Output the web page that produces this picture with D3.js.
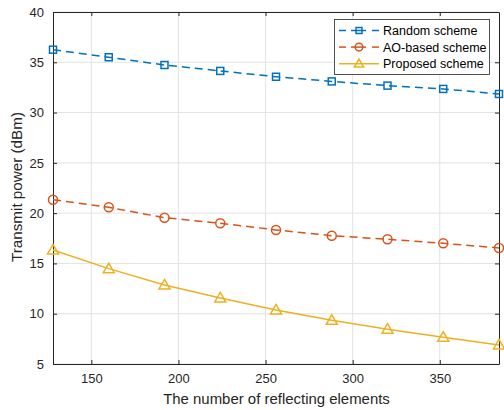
<!DOCTYPE html>
<html><head><meta charset="utf-8">
<script src="https://cdn.jsdelivr.net/npm/d3@7"></script>
<style>body{margin:0;background:#fff}svg{display:block}</style>
</head><body>
<script>
const elements = [128,160,192,224,256,288,320,352,384];
const randomScheme = [36.25,35.5,34.73,34.14,33.56,33.1,32.68,32.35,31.85];
const aoScheme = [21.34,20.58,19.55,19.0,18.33,17.76,17.4,17.0,16.54];
const proposedScheme = [16.34,14.48,12.86,11.57,10.38,9.35,8.46,7.66,6.9];
const xTicks = [150,200,250,300,350];
const yTicks = [5,10,15,20,25,30,35,40];
const seriesNames = ["Random scheme","AO-based scheme","Proposed scheme"];

const W=504,H=410;
const m={l:53,r:5,t:12,b:46};
const svg=d3.select("body").append("svg").attr("width",W).attr("height",H);
const x=d3.scaleLinear().domain([128,384]).range([m.l,W-m.r]);
const y=d3.scaleLinear().domain([5,40]).range([H-m.b,m.t]);
const font="Liberation Sans, Arial, sans-serif";
const tc="#262626";

// grid
const g=svg.append("g");
g.selectAll(".gx").data(xTicks).join("line").attr("x1",d=>x(d)).attr("x2",d=>x(d)).attr("y1",m.t).attr("y2",H-m.b).attr("stroke","#e3e3e3").attr("stroke-width",1);
g.selectAll(".gy").data(yTicks).join("line").attr("y1",d=>y(d)).attr("y2",d=>y(d)).attr("x1",m.l).attr("x2",W-m.r).attr("stroke","#e3e3e3").attr("stroke-width",1);

// axes
const tl=-4;
const xb=d3.axisBottom(x).tickValues(xTicks).tickSizeInner(tl).tickSizeOuter(0).tickPadding(10);
const yl=d3.axisLeft(y).tickValues(yTicks).tickSizeInner(tl).tickSizeOuter(0).tickPadding(9);
const xt=d3.axisTop(x).tickValues(xTicks).tickSizeInner(tl).tickSizeOuter(0).tickFormat("");
const yr=d3.axisRight(y).tickValues(yTicks).tickSizeInner(tl).tickSizeOuter(0).tickFormat("");
function style(a){a.selectAll("path").attr("stroke",tc).attr("stroke-width",1);a.selectAll("line").attr("stroke",tc);a.selectAll("text").attr("fill",tc).attr("font-size",13).attr("font-family",font);}
svg.append("g").attr("transform",`translate(0,${H-m.b})`).call(xb).call(style);
svg.append("g").attr("transform",`translate(${m.l},0)`).call(yl).call(style);
svg.append("g").attr("transform",`translate(0,${m.t})`).call(xt).call(style);
svg.append("g").attr("transform",`translate(${W-m.r},0)`).call(yr).call(style);

const series=[
 {name:seriesNames[0],vals:randomScheme,color:"#0072BD",dash:"8,5",marker:"square"},
 {name:seriesNames[1],vals:aoScheme,color:"#D95319",dash:"8,5",marker:"circle"},
 {name:seriesNames[2],vals:proposedScheme,color:"#EDB120",dash:null,marker:"triangle"}
];
const line=d3.line().x(d=>x(d[0])).y(d=>y(d[1]));
function drawMarker(sel,type,color,s){
  s=s||1;
  if(type==="square") sel.append("rect").attr("x",-3.5*s).attr("y",-3.5*s).attr("width",7*s).attr("height",7*s);
  else if(type==="circle") sel.append("circle").attr("r",4.5*s);
  else sel.append("path").attr("d",`M0,${-5.5*s}L${5.5*s},${4*s}L${-5.5*s},${4*s}Z`);
  sel.selectAll("*").attr("fill","none").attr("stroke",color).attr("stroke-width",1.5);
}
series.forEach(s=>{
  const pts=elements.map((e,i)=>[e,s.vals[i]]);
  svg.append("path").datum(pts).attr("d",line).attr("fill","none").attr("stroke",s.color).attr("stroke-width",1.5).attr("stroke-dasharray",s.dash);
  pts.forEach(p=>{
    const mg=svg.append("g").attr("transform",`translate(${x(p[0])},${y(p[1])})`);
    drawMarker(mg,s.marker,s.color);
  });
});

// legend
const lg=svg.append("g");
lg.append("rect").attr("x",334.5).attr("y",19.5).attr("width",155).attr("height",55).attr("fill","#fff").attr("stroke",tc).attr("stroke-width",0.8);
series.forEach((s,i)=>{
  const yy=30.5+i*16.6;
  if(s.dash){
    [[339,346],[351,366],[372,379]].forEach(seg=>{
      lg.append("line").attr("x1",seg[0]).attr("x2",seg[1]).attr("y1",yy).attr("y2",yy).attr("stroke",s.color).attr("stroke-width",1.5);
    });
  } else {
    lg.append("line").attr("x1",339).attr("x2",379).attr("y1",yy).attr("y2",yy).attr("stroke",s.color).attr("stroke-width",1.5);
  }
  const mg=lg.append("g").attr("transform",`translate(359,${yy})`);
  drawMarker(mg,s.marker,s.color,0.85);
  lg.append("text").attr("x",383).attr("y",yy+4.5).text(s.name).attr("font-size",12.5).attr("font-family",font).attr("fill","#000");
});

// labels
const xl=svg.append("text").attr("x",(m.l+W-m.r)/2+0.5).attr("y",404).attr("text-anchor","middle").attr("font-size",14).attr("font-family",font).attr("fill",tc).text("The number of reflecting elements");
const ylab=svg.append("text").attr("transform",`translate(22,${187}) rotate(-90)`).attr("text-anchor","middle").attr("font-size",14).attr("font-family",font).attr("fill",tc).text("Transmit power (dBm)");
function fit(t,target){const w=t.node().getComputedTextLength();if(w>0)t.attr("font-size",14*target/w);}
fit(xl,227);fit(ylab,150);
</script>
</body></html>
